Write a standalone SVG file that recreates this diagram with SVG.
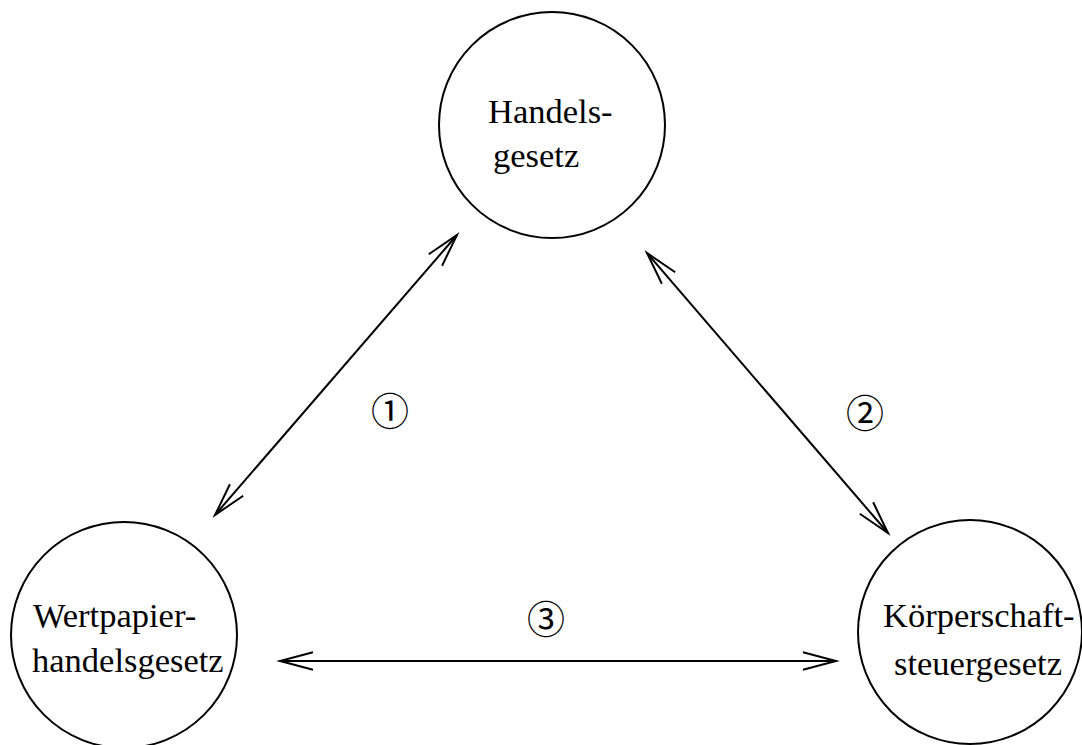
<svg xmlns="http://www.w3.org/2000/svg" width="1082" height="745" viewBox="0 0 1082 745">
<style>
.node circle{fill:none;stroke:#000;stroke-width:2}
.lbl{font-family:"Liberation Serif","Times New Roman",serif;font-size:34.5px;fill:#000}
.num{font-family:"Noto Sans CJK JP","DejaVu Sans",sans-serif;font-size:38px;fill:#000;text-anchor:middle;dominant-baseline:central}
.conn line{stroke:#000;stroke-width:2;fill:none;marker-start:url(#ah);marker-end:url(#ah)}
</style>
<defs>
<marker id="ah" markerUnits="userSpaceOnUse" viewBox="-36 -12 40 24" refX="0" refY="0" markerWidth="40" markerHeight="24" orient="auto-start-reverse" overflow="visible">
<path d="M -33 -8.8 L 0 0 L -33 8.8" fill="none" stroke="#000" stroke-width="2"/>
</marker>
</defs>
<rect width="1082" height="745" fill="#fff"/>
<g id="node-handelsgesetz" class="node">
<circle cx="552" cy="125" r="113"/>
<text class="lbl" x="488" y="123">Handels-</text>
<text class="lbl" x="493" y="167">gesetz</text>
</g>
<g id="node-wphg" class="node">
<circle cx="124" cy="635" r="113"/>
<text class="lbl" x="33" y="627">Wertpapier-</text>
<text class="lbl" x="32" y="672">handelsgesetz</text>
</g>
<g id="node-kstg" class="node">
<circle cx="970" cy="632" r="112"/>
<text class="lbl" x="883" y="627">Körperschaft-</text>
<text class="lbl" x="894" y="675">steuergesetz</text>
</g>
<g id="connectors" class="conn">
<line x1="215" y1="515" x2="457" y2="235"/>
<line x1="647" y1="253" x2="888" y2="533"/>
<line x1="280" y1="661" x2="836" y2="661"/>
</g>
<g id="labels">
<text class="num" x="390" y="408">①</text>
<text class="num" x="865" y="410">②</text>
<text class="num" x="546" y="616">③</text>
</g>
</svg>
